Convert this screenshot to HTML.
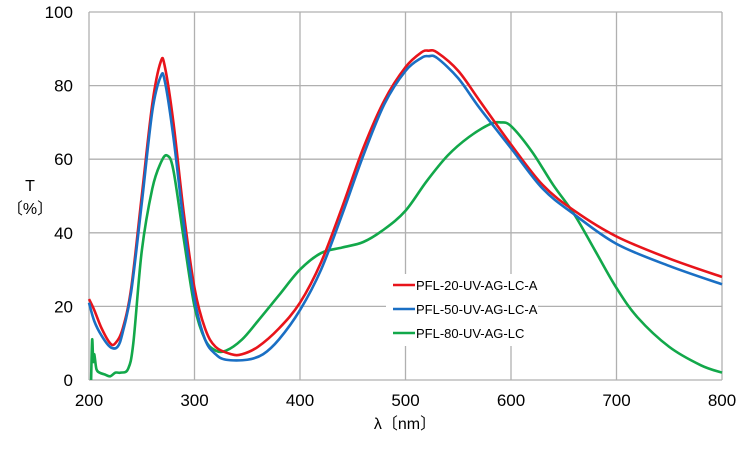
<!DOCTYPE html>
<html><head><meta charset="utf-8"><style>
body{margin:0;background:#fff;}
svg text{font-family:"Liberation Sans","Noto Sans CJK JP",sans-serif;fill:#000;}
</style></head><body>
<svg id="s" width="750" height="447" viewBox="0 0 750 447" xmlns="http://www.w3.org/2000/svg">
<rect width="750" height="447" fill="#fff"/>
<g id="grid" stroke="#b0b0b0" stroke-width="1.3"></g>
<g id="lab" font-size="17"></g>
<text x="30" y="191" font-size="16" text-anchor="middle">T</text>
<text x="30" y="214" font-size="16" text-anchor="middle">〔%〕</text>
<text x="405" y="429" font-size="16" text-anchor="middle">λ〔nm〕</text>
<g id="lines" fill="none" stroke-width="2.6" stroke-linejoin="round"></g>
<rect x="386" y="274" width="152" height="72" fill="#fff"/>
<line x1="393" y1="285" x2="415" y2="285" stroke="#e8141b" stroke-width="2.6"/>
<line x1="393" y1="309" x2="415" y2="309" stroke="#1a6fc4" stroke-width="2.6"/>
<line x1="393" y1="333" x2="415" y2="333" stroke="#12a84a" stroke-width="2.6"/>
<text x="416" y="290" font-size="13">PFL-20-UV-AG-LC-A</text>
<text x="416" y="314" font-size="13">PFL-50-UV-AG-LC-A</text>
<text x="416" y="338" font-size="13">PFL-80-UV-AG-LC</text>
</svg>
<script>
const X=v=>89+(v-200)*633/600, Y=v=>380-v*3.68;
const NS="http://www.w3.org/2000/svg";
const g=document.getElementById('grid'),lab=document.getElementById('lab'),ln=document.getElementById('lines');
function el(p,t,a){const e=document.createElementNS(NS,t);for(const k in a)e.setAttribute(k,a[k]);p.appendChild(e);return e;}
for(let v=0;v<=100;v+=20){el(g,'line',{x1:89,x2:722,y1:Y(v),y2:Y(v)});const t=el(lab,'text',{x:73,y:Y(v)+6,'text-anchor':'end'});t.textContent=v;}
for(let v=200;v<=800;v+=100){el(g,'line',{x1:X(v),x2:X(v),y1:12,y2:380});const t=el(lab,'text',{x:X(v),y:406,'text-anchor':'middle'});t.textContent=v;}
const red=[[200,22],[205,19],[212,14],[220,10],[225,10],[232,14],[240,25],[250,50],[260,75],[268,86.5],[272,85],[280,70],[290,45],[300,25],[310,14],[320,9],[335,7],[345,7],[360,9],[380,14],[400,21],[420,32],[440,47],[460,63],[480,76],[500,85],[515,89],[522,89.5],[530,89],[550,84],[570,76],[600,64],[630,53],[660,46],[700,39],[750,33],[800,28]];
const blue=[[200,21],[205,16],[212,12],[220,9],[227,9],[232,13],[240,24],[250,48],[260,73],[268,82.5],[272,81],[280,66],[290,42],[300,22],[310,11],[320,7],[330,5.5],[350,5.5],[365,7],[380,11],[400,19],[420,30],[440,45],[460,61],[480,75],[500,84],[515,87.5],[522,88],[530,87.5],[550,82],[570,74],[600,63],[630,52],[660,45],[700,37],[750,31],[800,26]];
const green=[[202,0],[203,11],[204,5],[205,7],[207,3],[210,2],[215,1.5],[220,1],[225,2],[230,2],[237,3],[242,10],[250,35],[260,52],[268,59],[274,61],[280,57],[290,38],[300,20],[310,11],[320,8],[330,8],[345,11],[360,16],[380,23],[400,30],[420,34.5],[440,36],[460,37.5],[480,41],[500,46],[520,54],[540,61],[560,66],[580,69.5],[590,70],[600,69],[620,62],[640,53],[660,45],[680,35],[700,25],[720,17],[750,9],[780,4],[800,2]];
function path(pts){const p=pts.map(q=>[X(q[0]),Y(q[1])]);let d='M'+p[0];for(let i=0;i<p.length-1;i++){const a=p[i-1]||p[i],b=p[i],c=p[i+1],e=p[i+2]||c;d+=' C'+(b[0]+(c[0]-a[0])/6)+','+(b[1]+(c[1]-a[1])/6)+' '+(c[0]-(e[0]-b[0])/6)+','+(c[1]-(e[1]-b[1])/6)+' '+c;}return d;}
el(ln,'path',{d:path(green),stroke:'#12a84a'});
el(ln,'path',{d:path(red),stroke:'#e8141b'});
el(ln,'path',{d:path(blue),stroke:'#1a6fc4'});
</script>
</body></html>
